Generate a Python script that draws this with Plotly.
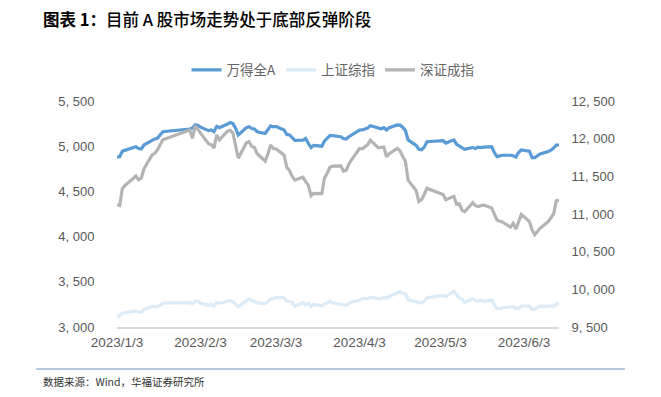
import plotly.graph_objects as go

dates = [
    "2023-01-03", "2023-01-04", "2023-01-05", "2023-01-06",
    "2023-01-09", "2023-01-10", "2023-01-11", "2023-01-12", "2023-01-13",
    "2023-01-16", "2023-01-17", "2023-01-18", "2023-01-19", "2023-01-20",
    "2023-01-30", "2023-01-31", "2023-02-01", "2023-02-02", "2023-02-03",
    "2023-02-06", "2023-02-07", "2023-02-08", "2023-02-09", "2023-02-10",
    "2023-02-13", "2023-02-14", "2023-02-15", "2023-02-16", "2023-02-17",
    "2023-02-20", "2023-02-21", "2023-02-22", "2023-02-23", "2023-02-24",
    "2023-02-27", "2023-02-28", "2023-03-01", "2023-03-02", "2023-03-03",
    "2023-03-06", "2023-03-07", "2023-03-08", "2023-03-09", "2023-03-10",
    "2023-03-13", "2023-03-14", "2023-03-15", "2023-03-16", "2023-03-17",
    "2023-03-20", "2023-03-21", "2023-03-22", "2023-03-23", "2023-03-24",
    "2023-03-27", "2023-03-28", "2023-03-29", "2023-03-30", "2023-03-31",
    "2023-04-03", "2023-04-04", "2023-04-06", "2023-04-07",
    "2023-04-10", "2023-04-11", "2023-04-12", "2023-04-13", "2023-04-14",
    "2023-04-17", "2023-04-18", "2023-04-19", "2023-04-20", "2023-04-21",
    "2023-04-24", "2023-04-25", "2023-04-26", "2023-04-27", "2023-04-28",
    "2023-05-04", "2023-05-05",
    "2023-05-08", "2023-05-09", "2023-05-10", "2023-05-11", "2023-05-12",
    "2023-05-15", "2023-05-16", "2023-05-17", "2023-05-18", "2023-05-19",
    "2023-05-22", "2023-05-23", "2023-05-24", "2023-05-25", "2023-05-26",
    "2023-05-29", "2023-05-30", "2023-05-31", "2023-06-01", "2023-06-02",
    "2023-06-05", "2023-06-06", "2023-06-07", "2023-06-08", "2023-06-09",
    "2023-06-12", "2023-06-13", "2023-06-14", "2023-06-15", "2023-06-16",
]

wind_all_a = [
    4877, 4885, 4945, 4955,
    4990, 4995, 4975, 4970, 5013,
    5065, 5080, 5087, 5120, 5160,
    5190, 5200, 5235, 5232, 5210,
    5172, 5180, 5160, 5220, 5205,
    5245, 5262, 5250, 5200, 5124,
    5205, 5215, 5195, 5190, 5160,
    5140, 5180, 5225, 5215, 5218,
    5180, 5130, 5125, 5100, 5065,
    5068, 5085, 5030, 4985, 5010,
    5000, 5058, 5090, 5116, 5116,
    5105, 5085, 5080, 5105, 5125,
    5179, 5180, 5200, 5227,
    5195, 5192, 5205, 5180, 5205,
    5235, 5233, 5210, 5175, 5069,
    5010, 4965, 4960, 4990, 5050,
    5061, 5035,
    5070, 5020, 5005, 4985, 4965,
    4985, 4975, 4990, 4985, 4990,
    4995, 4930, 4884, 4893, 4900,
    4900, 4895, 4880, 4930, 4958,
    4945, 4873, 4873, 4895, 4915,
    4940, 4955, 4980, 5013, 5013,
]

sse_composite = [
    3117, 3124, 3155, 3158,
    3176, 3170, 3162, 3163, 3195,
    3228, 3224, 3224, 3240, 3265,
    3269, 3256, 3285, 3286, 3263,
    3239, 3248, 3232, 3270, 3261,
    3284, 3293, 3280, 3249, 3224,
    3290, 3307, 3291, 3287, 3267,
    3258, 3280, 3312, 3311, 3328,
    3322, 3285, 3283, 3276, 3230,
    3269, 3245, 3263, 3227, 3251,
    3235, 3256, 3266, 3287, 3266,
    3251, 3245, 3240, 3261, 3273,
    3296, 3313, 3313, 3328,
    3315, 3314, 3327, 3318, 3338,
    3386, 3393, 3370, 3367, 3301,
    3275, 3265, 3264, 3286, 3323,
    3350, 3335,
    3395, 3358, 3319, 3310, 3272,
    3311, 3291, 3284, 3297, 3284,
    3296, 3246, 3205, 3201, 3213,
    3221, 3224, 3205, 3205, 3230,
    3232, 3195, 3198, 3214, 3231,
    3229, 3234, 3229, 3253, 3258,
]

szse_component = [
    11120, 11111, 11340, 11380,
    11470, 11505, 11455, 11475, 11600,
    11785, 11805, 11850, 11920, 11985,
    12115, 12005, 12170, 12120, 12080,
    11930, 11920, 11875, 12050, 11985,
    12100, 12110, 12075, 11910, 11740,
    11945, 11960, 11900, 11880, 11800,
    11700, 11800, 11915, 11870, 11865,
    11780, 11620, 11580, 11500, 11450,
    11490, 11430, 11380, 11245, 11275,
    11270, 11480, 11540, 11620, 11635,
    11640, 11570, 11580, 11660, 11720,
    11870, 11865, 11920, 11980,
    11880, 11885, 11890, 11760, 11800,
    11870, 11840, 11765, 11700, 11450,
    11310, 11165, 11190, 11260, 11340,
    11260, 11190,
    11235, 11130, 11135, 11050, 11030,
    11150, 11110, 11100, 11110, 11120,
    11080, 11000, 10920, 10905, 10895,
    10825, 10875, 10800, 10900, 10995,
    10900, 10790, 10725, 10770, 10810,
    10900, 10950, 11000, 11175, 11185,
]

series_names = ["万得全A", "上证综指", "深证成指"]

x_tick_vals = ["2023-01-03", "2023-02-03", "2023-03-03", "2023-04-03", "2023-05-03", "2023-06-03"]
x_tick_text = ["2023/1/3", "2023/2/3", "2023/3/3", "2023/4/3", "2023/5/3", "2023/6/3"]

left_tick_vals = [3000, 3500, 4000, 4500, 5000, 5500]
left_tick_text = ["3, 000", "3, 500", "4, 000", "4, 500", "5, 000", "5, 500"]
right_tick_vals = [9500, 10000, 10500, 11000, 11500, 12000, 12500]
right_tick_text = ["9, 500", "10, 000", "10, 500", "11, 000", "11, 500", "12, 000", "12, 500"]

title_text = "<b>图表 1：</b><span style='font-weight:500'>目前 A 股市场走势处于底部反弹阶段</span>"
source_text = "数据来源：Wind，华福证券研究所"

# page body has an 8px margin; the figure is sized so it fits in the window
OFF = 8
W, H = 661 - OFF, 397 - OFF
# plot area in reference-window pixels
PL, PR, PT, PB = 117, 559, 101, 327
ML, MR, MT, MB = PL - OFF, (W + OFF) - PR, PT - OFF, (H + OFF) - PB
PW = PR - PL
PH = PB - PT


def px_x(px):
    return (px - PL) / PW


def px_y(py):
    return (PB - py) / PH


TICK_FONT = dict(family="Liberation Sans, Arial, sans-serif", size=13, color="#595959")

fig = go.Figure()
fig.add_trace(go.Scatter(
    x=dates, y=wind_all_a, name=series_names[0], mode="lines",
    line=dict(color="#5B9BD5", width=3.2), yaxis="y", legendrank=1,
))
fig.add_trace(go.Scatter(
    x=dates, y=sse_composite, name=series_names[1], mode="lines",
    line=dict(color="#DDEBF7", width=3.2), yaxis="y", legendrank=2,
))
fig.add_trace(go.Scatter(
    x=dates, y=szse_component, name=series_names[2], mode="lines",
    line=dict(color="#B4B4B4", width=3.2), yaxis="y2", legendrank=3,
))

fig.update_layout(
    width=W, height=H,
    margin=dict(l=ML, r=MR, t=MT, b=MB, pad=0),
    paper_bgcolor="white", plot_bgcolor="white",
    showlegend=True,
    legend=dict(
        orientation="h", x=px_x(333), xanchor="center", y=px_y(70), yanchor="middle",
        font=dict(family="Noto Sans CJK SC, sans-serif", size=13.5, color="#666666"),
        itemwidth=30, tracegroupgap=0, bgcolor="rgba(0,0,0,0)",
    ),
    xaxis=dict(
        type="date", range=["2023-01-03", "2023-06-16"],
        tickvals=x_tick_vals, ticktext=x_tick_text,
        ticks="outside", ticklen=2, tickcolor="rgba(0,0,0,0)",
        tickfont=dict(family="Liberation Sans, Arial, sans-serif", size=13.5, color="#595959"),
        showgrid=False, zeroline=False,
        showline=True, linecolor="#D9D9D9", linewidth=1.5,
    ),
    yaxis=dict(
        range=[3000, 5500], tickvals=left_tick_vals, ticktext=left_tick_text,
        ticks="outside", ticklen=19, tickcolor="rgba(0,0,0,0)",
        tickfont=TICK_FONT, showgrid=False, zeroline=False, showline=False,
    ),
    yaxis2=dict(
        range=[9500, 12500], tickvals=right_tick_vals, ticktext=right_tick_text,
        overlaying="y", side="right",
        ticks="outside", ticklen=9, tickcolor="rgba(0,0,0,0)",
        tickfont=TICK_FONT, showgrid=False, zeroline=False, showline=False,
    ),
    annotations=[
        dict(
            text=title_text, xref="paper", yref="paper",
            x=px_x(41), y=px_y(19), xanchor="left", yanchor="middle",
            showarrow=False,
            font=dict(family="Noto Sans CJK SC, sans-serif", size=16.5, color="#000000"),
        ),
        dict(
            text=source_text, xref="paper", yref="paper",
            x=px_x(41), y=px_y(381), xanchor="left", yanchor="middle",
            showarrow=False,
            font=dict(family="Noto Sans CJK SC, Liberation Sans, sans-serif", size=10.5, color="#333333"),
        ),
    ],
    shapes=[
        dict(
            type="line", xref="paper", yref="paper",
            x0=px_x(36), x1=px_x(625), y0=px_y(369), y1=px_y(369),
            line=dict(color="#6F8FC4", width=1.2),
        ),
    ],
)

fig.write_html("out.html")
